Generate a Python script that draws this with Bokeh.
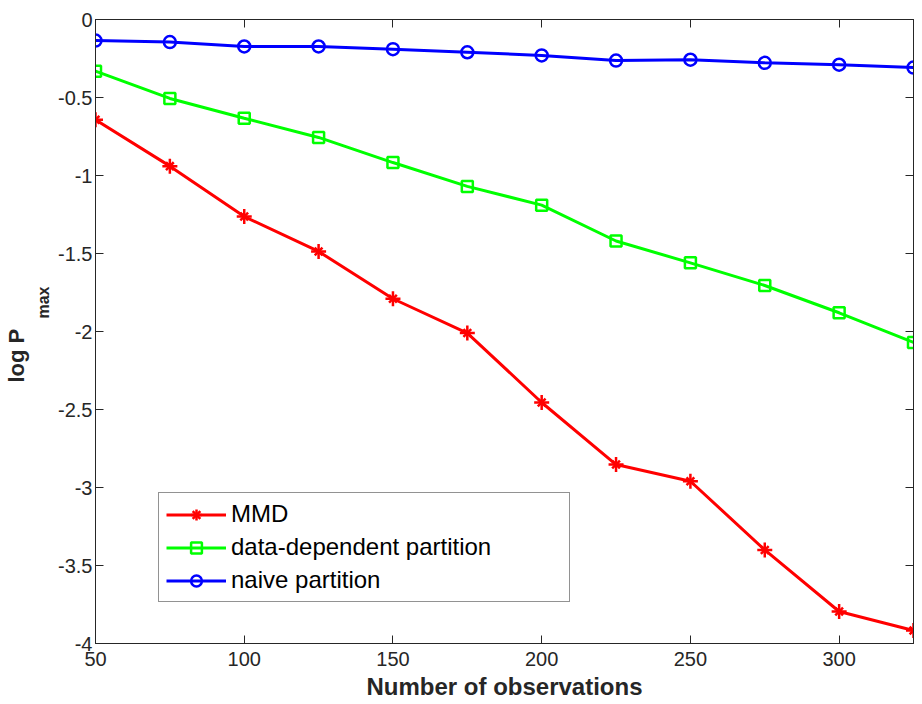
from bokeh.plotting import figure
from bokeh.models import (Range1d, LinearAxis, Legend, LegendItem, Title,
                          FixedTicker, ColumnDataSource)
from bokeh.embed import file_html
from bokeh.resources import INLINE

n_obs = [50, 75, 100, 125, 150, 175, 200, 225, 250, 275, 300, 325]
mmd = [-0.643, -0.94, -1.263, -1.487, -1.79, -2.01, -2.455, -2.853, -2.96, -3.40, -3.795, -3.917]
data_dep = [-0.331, -0.506, -0.633, -0.756, -0.917, -1.07, -1.19, -1.42, -1.56, -1.705, -1.88, -2.07]
naive = [-0.135, -0.145, -0.173, -0.173, -0.19, -0.21, -0.23, -0.263, -0.258, -0.278, -0.29, -0.308]
x_ticks = [50, 100, 150, 200, 250, 300]
y_ticks = [0, -0.5, -1, -1.5, -2, -2.5, -3, -3.5, -4]
y_tick_labels = {0: "0", -0.5: "-0.5", -1: "-1", -1.5: "-1.5", -2: "-2",
                 -2.5: "-2.5", -3: "-3", -3.5: "-3.5", -4: "-4"}

FONT = "Liberation Sans"
AX = "#262626"

p = figure(width=922, height=704, output_backend="svg", toolbar_location=None,
           x_range=Range1d(50, 325), y_range=Range1d(-4, 0),
           min_border_left=95, min_border_right=9, min_border_top=19,
           min_border_bottom=61)
p.grid.visible = False
p.outline_line_color = AX
p.outline_line_width = 1
p.background_fill_color = "white"
p.border_fill_color = "white"

for ax in (p.xaxis[0], p.yaxis[0]):
    ax.axis_line_color = AX
    ax.major_tick_line_color = AX
    ax.major_tick_in = 8
    ax.major_tick_out = 0
    ax.minor_tick_line_color = None
    ax.major_label_text_font = FONT
    ax.major_label_text_font_size = "20px"
    ax.major_label_text_color = AX

p.xaxis.ticker = FixedTicker(ticks=x_ticks)
p.yaxis.ticker = FixedTicker(ticks=y_ticks)
p.yaxis.major_label_overrides = {k: v for k, v in y_tick_labels.items()}
p.xaxis.major_label_standoff = 8
p.yaxis.major_label_standoff = 3
p.xaxis.axis_label = "Number of observations"
p.xaxis.axis_label_text_font = FONT
p.xaxis.axis_label_text_font_size = "24px"
p.xaxis.axis_label_text_font_style = "bold"
p.xaxis.axis_label_text_color = AX
p.xaxis.axis_label_standoff = 4

# box ticks on top and right (no labels)
for loc in ("above", "right"):
    a = LinearAxis(ticker=FixedTicker(ticks=x_ticks if loc == "above" else y_ticks),
                   major_label_text_font_size="0px", major_label_text_color=None,
                   major_tick_in=8, major_tick_out=0, minor_tick_line_color=None,
                   axis_line_color=AX, major_tick_line_color=AX,
                   major_label_standoff=0)
    p.add_layout(a, loc)

src = ColumnDataSource(dict(x=n_obs, mmd=mmd, dd=data_dep, nv=naive))

r_line = p.line("x", "mmd", source=src, color="#ff0000", line_width=3)
r_c = p.scatter("x", "mmd", source=src, marker="cross", size=15, line_color="#ff0000", line_width=2.5)
r_x = p.scatter("x", "mmd", source=src, marker="x", size=11, line_color="#ff0000", line_width=2.5)

g_line = p.line("x", "dd", source=src, color="#00ff00", line_width=3)
g_m = p.scatter("x", "dd", source=src, marker="square", size=11, line_color="#00ff00",
                fill_color=None, line_width=2.5)

b_line = p.line("x", "nv", source=src, color="#0000ff", line_width=3)
b_m = p.scatter("x", "nv", source=src, marker="circle", size=12, line_color="#0000ff",
                fill_color=None, line_width=2.5)

legend = Legend(items=[
    LegendItem(label="MMD", renderers=[r_line, r_c, r_x]),
    LegendItem(label="data-dependent partition", renderers=[g_line, g_m]),
    LegendItem(label="naive partition", renderers=[b_line, b_m]),
], location=(63, 41))
legend.label_text_font = FONT
legend.label_text_font_size = "24px"
legend.label_text_color = "black"
legend.glyph_width = 60
legend.glyph_height = 27
legend.label_height = 27
legend.label_width = 331
legend.spacing = 5
legend.padding = 7
legend.margin = 0
legend.border_line_color = AX
legend.border_line_width = 1
legend.background_fill_alpha = 1
legend.label_standoff = 5
p.add_layout(legend, "center")

# y-axis label "log P" with subscript "max", as two titles on the left side
t_max = Title(text="max", align="left", offset=325, standoff=8,
              text_font=FONT, text_font_size="16px", text_font_style="bold",
              text_color=AX)
t_log = Title(text="log P", align="left", offset=261, standoff=0,
              text_font=FONT, text_font_size="22px", text_font_style="bold",
              text_color=AX)
p.add_layout(t_max, "left")
p.add_layout(t_log, "left")

open("out.html", "w").write(file_html(p, INLINE))
